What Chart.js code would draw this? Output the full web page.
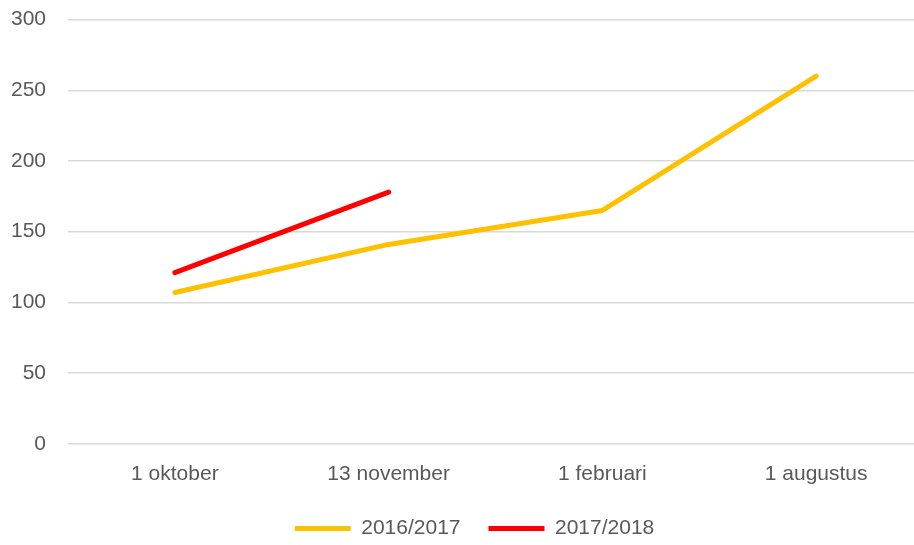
<!DOCTYPE html>
<html>
<head>
<meta charset="utf-8">
<script src="https://cdn.jsdelivr.net/npm/chart.js@4/dist/chart.umd.min.js"></script>
<style>
  html, body { margin: 0; padding: 0; background: #ffffff; overflow: hidden; width: 914px; height: 545px; }
  #c { display: block; margin-top: -15px; }
</style>
</head>
<body>
<canvas id="c" width="923" height="579" style="width:923px;height:579px;"></canvas>
<script>
const categories = ["1 oktober", "13 november", "1 februari", "1 augustus"];
const series2016 = [107, 141, 165, 260];
const series2017 = [121, 178, null, null];
const seriesNames = ["2016/2017", "2017/2018"];
const yTicks = [0, 50, 100, 150, 200, 250, 300];

const textColor = "#595959";
const fontFamily = "'Liberation Sans', Arial, sans-serif";

const legendShift = {
  id: "legendShift",
  afterLayout(chart) {
    const lg = chart.legend;
    if (lg) {
      lg.left += 8; lg.right += 8;
      lg.top -= 15; lg.bottom -= 15;
    }
  }
};

new Chart(document.getElementById("c"), {
  type: "line",
  data: {
    labels: categories,
    datasets: [
      {
        label: seriesNames[0],
        data: series2016,
        borderColor: "#FFC000",
        backgroundColor: "#FFC000",
        borderWidth: 5,
        borderCapStyle: "round",
        borderJoinStyle: "round",
        pointRadius: 0,
        tension: 0
      },
      {
        label: seriesNames[1],
        data: series2017,
        borderColor: "#FF0000",
        backgroundColor: "#FF0000",
        borderWidth: 5,
        borderCapStyle: "round",
        borderJoinStyle: "round",
        pointRadius: 0,
        tension: 0
      }
    ]
  },
  options: {
    responsive: false,
    maintainAspectRatio: false,
    animation: false,
    devicePixelRatio: 1,
    layout: { padding: { left: 10, top: 0, right: 0, bottom: 0 } },
    plugins: {
      tooltip: { enabled: false },
      legend: {
        position: "bottom",
        labels: {
          usePointStyle: true,
          pointStyle: "line",
          pointStyleWidth: 56,
          padding: 28,
          color: textColor,
          font: { family: fontFamily, size: 21 }
        }
      }
    },
    scales: {
      x: {
        offset: true,
        grid: { display: false, drawTicks: false },
        border: { display: false },
        ticks: {
          color: textColor,
          font: { family: fontFamily, size: 21 },
          padding: 18,
          maxRotation: 0
        }
      },
      y: {
        min: 0,
        max: 300,
        afterBuildTicks(scale) {
          scale.ticks = yTicks.map(v => ({ value: v }));
        },
        afterFit(scale) {
          scale.width = 58;
        },
        grid: { color: "#d9d9d9", lineWidth: 1.5, drawTicks: false },
        border: { display: false },
        ticks: {
          color: textColor,
          font: { family: fontFamily, size: 21 },
          padding: 22
        }
      }
    }
  },
  plugins: [legendShift]
});
</script>
</body>
</html>
